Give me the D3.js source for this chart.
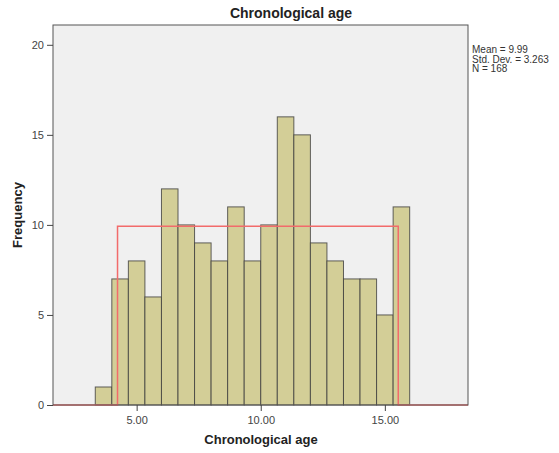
<!DOCTYPE html>
<html>
<head>
<meta charset="utf-8">
<script src="https://cdn.jsdelivr.net/npm/d3@7"></script>
<style>
  body { margin: 0; background: #fff; }
  text { font-family: Arial, "Liberation Sans", sans-serif; }
</style>
</head>
<body>
<div id="chart"></div>
<script>
// histogram bins: start edge, width, counts
const binStart = 3.333;
const binWidth = 0.6667;
const counts = [1, 7, 8, 6, 12, 10, 9, 8, 11, 8, 10, 16, 15, 9, 8, 7, 7, 5, 11];
const xTicks = [5, 10, 15];
const yTicks = [0, 5, 10, 15, 20];
const statsLines = ["Mean = 9.99", "Std. Dev. = 3.263", "N = 168"];
// overlay curve as drawn in the picture
const curvePoints = [[1.63, 0], [4.23, 0], [4.23, 9.93], [15.54, 9.93], [15.54, 0], [18.35, 0]];

const width = 559, height = 453;
const frame = { left: 53, right: 468, top: 25, bottom: 405 };

const svg = d3.select("#chart").append("svg")
    .attr("width", width)
    .attr("height", height);

const x = d3.scaleLinear().domain([1.63, 18.35]).range([frame.left, frame.right]);
const y = d3.scaleLinear().domain([0, 21.1]).range([frame.bottom, frame.top]);

// plot background
svg.append("rect")
    .attr("x", frame.left).attr("y", frame.top)
    .attr("width", frame.right - frame.left)
    .attr("height", frame.bottom - frame.top)
    .attr("fill", "#f0f0f0");

const bins = counts.map((c, i) => ({ x0: binStart + i * binWidth, x1: binStart + (i + 1) * binWidth, n: c }));

svg.append("g")
    .selectAll("rect")
    .data(bins)
    .join("rect")
    .attr("x", d => x(d.x0))
    .attr("y", d => y(d.n))
    .attr("width", d => x(d.x1) - x(d.x0))
    .attr("height", d => y(0) - y(d.n))
    .attr("fill", "#d3ce97")
    .attr("stroke", "#3c3c3c")
    .attr("stroke-opacity", 0.8)
    .attr("stroke-width", 1);

// overlay line
svg.append("path")
    .datum(curvePoints)
    .attr("fill", "none")
    .attr("stroke", "#f26b6b")
    .attr("stroke-width", 1.5)
    .attr("d", d3.line().x(d => x(d[0])).y(d => y(d[1])));

// frame
svg.append("rect")
    .attr("x", frame.left).attr("y", frame.top)
    .attr("width", frame.right - frame.left)
    .attr("height", frame.bottom - frame.top)
    .attr("fill", "none")
    .attr("stroke", "#555")
    .attr("stroke-width", 1);

// axes
const yAxis = svg.append("g")
    .attr("transform", `translate(${frame.left},0)`)
    .call(d3.axisLeft(y).tickValues(yTicks).tickSize(6).tickSizeOuter(0));
yAxis.select(".domain").remove();
yAxis.selectAll("line").attr("stroke", "#444");
yAxis.selectAll("text").attr("font-size", 11).attr("fill", "#444")
    .style("font-family", "Arial, 'Liberation Sans', sans-serif");

const xAxis = svg.append("g")
    .attr("transform", `translate(0,${frame.bottom})`)
    .call(d3.axisBottom(x).tickValues(xTicks).tickFormat(d3.format(".2f")).tickSize(6).tickSizeOuter(0));
xAxis.select(".domain").remove();
xAxis.selectAll("line").attr("stroke", "#444");
xAxis.selectAll("text").attr("font-size", 11).attr("fill", "#444").attr("dy", "0.95em")
    .style("font-family", "Arial, 'Liberation Sans', sans-serif");

// titles
svg.append("text")
    .attr("x", 291).attr("y", 18)
    .attr("text-anchor", "middle")
    .attr("font-size", 14).attr("font-weight", "bold").attr("fill", "#222")
    .text("Chronological age");

svg.append("text")
    .attr("x", 261).attr("y", 444)
    .attr("text-anchor", "middle")
    .attr("font-size", 13).attr("font-weight", "bold").attr("fill", "#222")
    .text("Chronological age");

svg.append("text")
    .attr("transform", `translate(22,${215}) rotate(-90)`)
    .attr("text-anchor", "middle")
    .attr("font-size", 13).attr("font-weight", "bold").attr("fill", "#222")
    .text("Frequency");

// stats box text
svg.append("g")
    .selectAll("text")
    .data(statsLines)
    .join("text")
    .attr("x", 472)
    .attr("y", (d, i) => 53 + i * 9.5)
    .attr("font-size", 10).attr("fill", "#333")
    .text(d => d);
</script>
</body>
</html>
